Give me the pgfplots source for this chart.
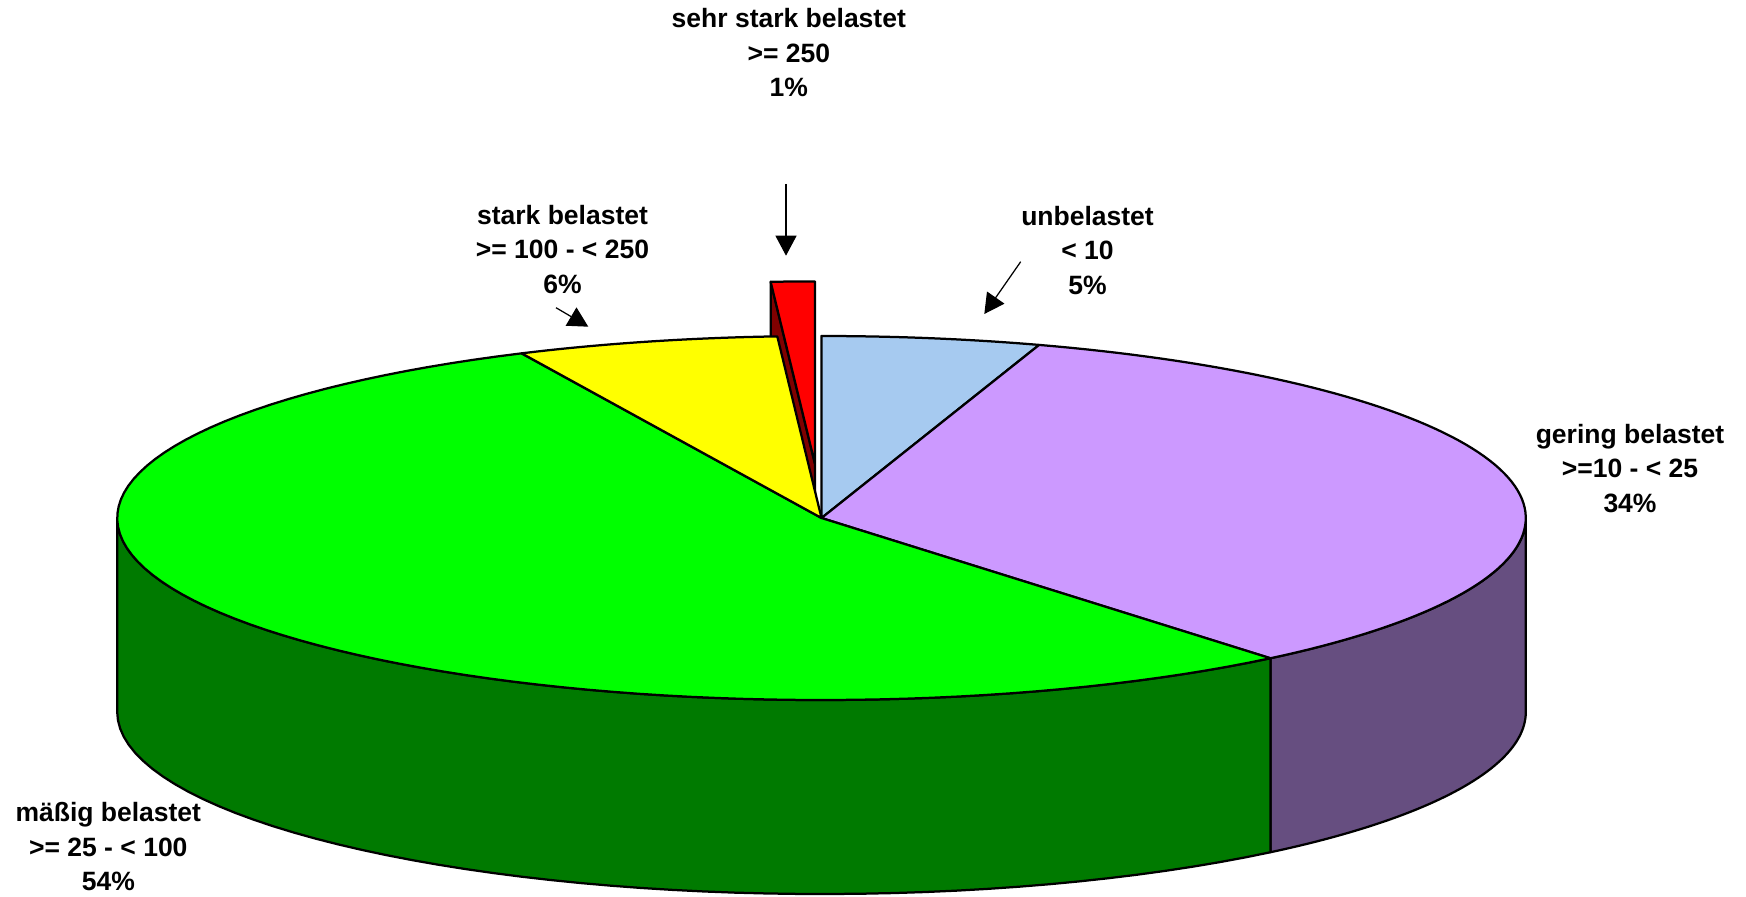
\documentclass[border=0pt]{standalone}
\usepackage{pgfplots}
\pgfplotsset{compat=1.18}
\usepackage{pgfplotstable}
\usepackage{fontspec}
\setmainfont{Liberation Sans}
\usetikzlibrary{arrows.meta}

\definecolor{cUnbel}{RGB}{166,202,240}
\definecolor{cGering}{RGB}{204,153,255}
\definecolor{cGeringSide}{RGB}{102,78,128}
\definecolor{cMaessig}{RGB}{0,255,0}
\definecolor{cMaessigSide}{RGB}{0,122,0}
\definecolor{cStark}{RGB}{255,255,0}
\definecolor{cSehr}{RGB}{255,0,0}
\definecolor{cSehrSide}{RGB}{128,0,0}

% shares in percent, clockwise from 12 o'clock
\pgfplotstableread{
slice      share
unbelastet 5
gering     34
maessig    54
stark      6
sehrstark  1
}\piedata

% pie geometry (axis units)
\def\cx{821.5}\def\cy{378}\def\rx{704.3}\def\ry{182}\def\dep{194}\def\expl{0.30}
\def\lw{0.9pt}

% top face of a slice: centre x, centre y, from angle, to angle, colour
\newcommand{\topface}[5]{%
  \addplot[draw=black, fill=#5, line width=\lw, line join=round,
    domain=#3:#4, samples=90, variable=\t]
    ({#1+\rx*sin(\t)},{#2+\ry*cos(\t)}) -- (axis cs:#1,#2) -- cycle;}

% outer wall of the front half: from angle, to angle, colour
\newcommand{\wall}[3]{%
  \addplot[draw=black, fill=#3, line width=\lw, line join=round, variable=\t,
    samples at={0,1,...,50,100,101,...,150}]
    ({\cx+\rx*sin((\t<75)*(#1+(#2-#1)*\t/50)+(\t>75)*(#2-(#2-#1)*(\t-100)/50))},
     {\cy+\ry*cos((\t<75)*(#1+(#2-#1)*\t/50)+(\t>75)*(#2-(#2-#1)*(\t-100)/50))-(\t>75)*\dep})
    -- cycle;}

\newcommand{\lblfont}{\bfseries\fontsize{10.6}{12}\selectfont}
\newcommand{\lbl}[5]{%
  \node[anchor=base, font=\lblfont, inner sep=0pt] at (axis cs:#1,#2) {#3};
  \node[anchor=base, font=\lblfont, inner sep=0pt] at (axis cs:#1,{#2-34.5}) {#4};
  \node[anchor=base, font=\lblfont, inner sep=0pt] at (axis cs:#1,{#2-69}) {#5};}

\begin{document}
\begin{tikzpicture}
\pgfplotstablegetelem{0}{share}\of\piedata \pgfmathsetmacro\aA{3.6*\pgfplotsretval}
\pgfplotstablegetelem{1}{share}\of\piedata \pgfmathsetmacro\aB{\aA+3.6*\pgfplotsretval}
\pgfplotstablegetelem{2}{share}\of\piedata \pgfmathsetmacro\aC{\aB+3.6*\pgfplotsretval}
\pgfplotstablegetelem{3}{share}\of\piedata \pgfmathsetmacro\aD{\aC+3.6*\pgfplotsretval}
\pgfplotstablegetelem{4}{share}\of\piedata \pgfmathsetmacro\aE{\aD+3.6*\pgfplotsretval}
% exploded slice: shifted centre and its left radial face
\pgfmathsetmacro\aM{(\aD+\aE)/2}
\pgfmathsetmacro\rcx{\cx+\expl*\rx*sin(\aM)}
\pgfmathsetmacro\rcy{\cy+\expl*\ry*cos(\aM)}
\pgfmathsetmacro\pax{\rcx+\rx*sin(\aD)}
\pgfmathsetmacro\pay{\rcy+\ry*cos(\aD)}
\pgfmathsetmacro\rcyb{\rcy-\dep}
\pgfmathsetmacro\payb{\pay-\dep}
\begin{axis}[
  name=ax,
  width=698.4pt, height=358.4pt, scale only axis,
  xmin=0, xmax=1746, ymin=0, ymax=896,
  enlargelimits=false, hide axis, clip=false,
]
  % sehr stark belastet (exploded, behind the rest)
  \addplot[draw=black, fill=cSehrSide, line width=\lw, line join=round]
    coordinates {(\pax,\pay) (\rcx,\rcy) (\rcx,\rcyb) (\pax,\payb)} -- cycle;
  \topface{\rcx}{\rcy}{\aD}{\aE}{cSehr}

  % side walls
  \wall{90}{\aB}{cGeringSide}
  \wall{\aB}{270}{cMaessigSide}

  % top faces
  \topface{\cx}{\cy}{0}{\aA}{cUnbel}
  \topface{\cx}{\cy}{\aA}{\aB}{cGering}
  \topface{\cx}{\cy}{\aB}{\aC}{cMaessig}
  \topface{\cx}{\cy}{\aC}{\aD}{cStark}

  % labels
  \lbl{788.8}{868.3}{sehr stark belastet}{>= 250}{1\%}
  \lbl{562.5}{671.7}{stark belastet}{>= 100 - < 250}{6\%}
  \lbl{1087.5}{671}{unbelastet}{< 10}{5\%}
  \lbl{1630}{452.7}{gering belastet}{>=10 - < 25}{34\%}
  \lbl{108.3}{74.3}{mäßig belastet}{>= 25 - < 100}{54\%}

  % pointers
  \draw[line width=0.5pt, -{Triangle[length=8pt,width=8.4pt]}]
    (axis cs:786,712) -- (axis cs:786,640.3);
  \draw[line width=0.5pt, -{Triangle[length=8pt,width=8.4pt]}]
    (axis cs:556,588.3) -- (axis cs:588.3,569.3);
  \draw[line width=0.5pt, -{Triangle[length=8pt,width=8.4pt]}]
    (axis cs:1020.7,634.3) -- (axis cs:984.3,582);
\end{axis}
\pgfresetboundingbox
\path (ax.south west) rectangle (ax.north east);
\end{tikzpicture}
\end{document}
